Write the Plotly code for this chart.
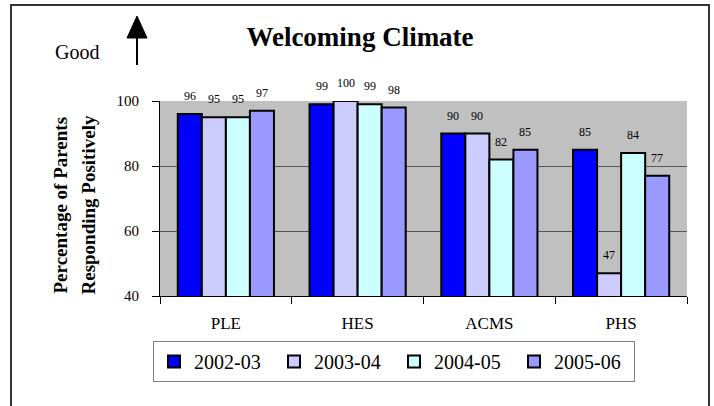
import plotly.graph_objects as go

# Survey results: share of parents responding positively, by school and year
schools = ["PLE", "HES", "ACMS", "PHS"]
years = ["2002-03", "2003-04", "2004-05", "2005-06"]
pct_2002_03 = [96, 99, 90, 85]
pct_2003_04 = [95, 100, 90, 47]
pct_2004_05 = [95, 99, 82, 84]
pct_2005_06 = [97, 98, 85, 77]
y_ticks = [40, 60, 80, 100]

series = [pct_2002_03, pct_2003_04, pct_2004_05, pct_2005_06]
colors = ["#0000FF", "#CCCCFF", "#CCFFFF", "#9999FF"]

W, H = 714, 406
ML, MR, MT, MB = 160, 27, 101, 110
PW, PH = W - ML - MR, H - MT - MB
BARGAP = 0.27
SERIF = "Liberation Serif, Times New Roman, serif"


def px(x):
    """Pixel x -> paper x."""
    return (x - ML) / PW


def py(y):
    """Pixel y (from top) -> paper y."""
    return (H - MB - y) / PH


fig = go.Figure()
for name, vals, col in zip(years, series, colors):
    fig.add_trace(go.Bar(
        x=schools, y=vals, name=name,
        marker=dict(color=col, line=dict(color="black", width=2)),
    ))

# value labels above each bar
bar_px = PW / len(schools) * (1 - BARGAP) / len(series)
annotations = []
for i, vals in enumerate(series):
    for school, v in zip(schools, vals):
        annotations.append(dict(
            x=school, y=v, xref="x", yref="y", text=str(v), showarrow=False,
            xshift=(i - (len(series) - 1) / 2) * bar_px, yshift=18,
            font=dict(family=SERIF, size=12, color="black"),
        ))

# axis title, two lines
annotations.append(dict(
    x=px(59.5), y=py(205), xref="paper", yref="paper", text="<b>Percentage of Parents</b>",
    textangle=-90, showarrow=False, xanchor="center", yanchor="middle",
    font=dict(family=SERIF, size=19, color="black"),
))
annotations.append(dict(
    x=px(87.5), y=py(205), xref="paper", yref="paper", text="<b>Responding Positively</b>",
    textangle=-90, showarrow=False, xanchor="center", yanchor="middle",
    font=dict(family=SERIF, size=19, color="black"),
))
annotations.append(dict(
    x=px(76.5), y=py(52), xref="paper", yref="paper", text="Good",
    showarrow=False, xanchor="center", yanchor="middle",
    font=dict(family=SERIF, size=20, color="black"),
))

shapes = [
    # outer frame
    dict(type="rect", xref="paper", yref="paper",
         x0=px(11), x1=px(709), y0=py(420), y1=py(5),
         line=dict(color="#333333", width=2), fillcolor="rgba(0,0,0,0)", layer="below"),
    # "Good" arrow: shaft and head
    dict(type="line", xref="paper", yref="paper",
         x0=px(137), x1=px(137), y0=py(65), y1=py(34),
         line=dict(color="black", width=2)),
    dict(type="path", xref="paper", yref="paper",
         path=f"M {px(137)} {py(16)} L {px(127)} {py(38)} L {px(147)} {py(38)} Z",
         fillcolor="black", line=dict(color="black", width=1)),
]

fig.update_layout(
    width=W, height=H, autosize=False,
    margin=dict(l=ML, r=MR, t=MT, b=MB),
    paper_bgcolor="white", plot_bgcolor="#C0C0C0",
    barmode="group", bargap=BARGAP, bargroupgap=0,
    font=dict(family=SERIF, color="black"),
    title=dict(text="<b>Welcoming Climate</b>", xref="container", yref="container",
               x=360 / W, y=1 - 37 / H, xanchor="center", yanchor="middle",
               font=dict(family=SERIF, size=27, color="black")),
    xaxis=dict(
        showline=True, linecolor="black", linewidth=1,
        ticks="outside", tickson="boundaries", ticklen=7, tickcolor="black",
        tickfont=dict(family=SERIF, size=17, color="black"),
        ticklabelstandoff=12, showgrid=False,
    ),
    yaxis=dict(
        range=[40, 100], tickvals=y_ticks, showline=True, linecolor="black", linewidth=1,
        ticks="outside", ticklen=7, tickcolor="black",
        tickfont=dict(family=SERIF, size=15, color="black"),
        ticklabelstandoff=10,
        showgrid=True, gridcolor="#555555", gridwidth=1, zeroline=False,
    ),
    legend=dict(
        orientation="h", x=px(153), y=py(341), xanchor="left", yanchor="top",
        bordercolor="#808080", borderwidth=1, bgcolor="white",
        font=dict(family=SERIF, size=20, color="black"),
        entrywidth=75, entrywidthmode="pixels", traceorder="normal",
        itemwidth=30,
    ),
    annotations=annotations,
    shapes=shapes,
)

fig.write_html("out.html")
